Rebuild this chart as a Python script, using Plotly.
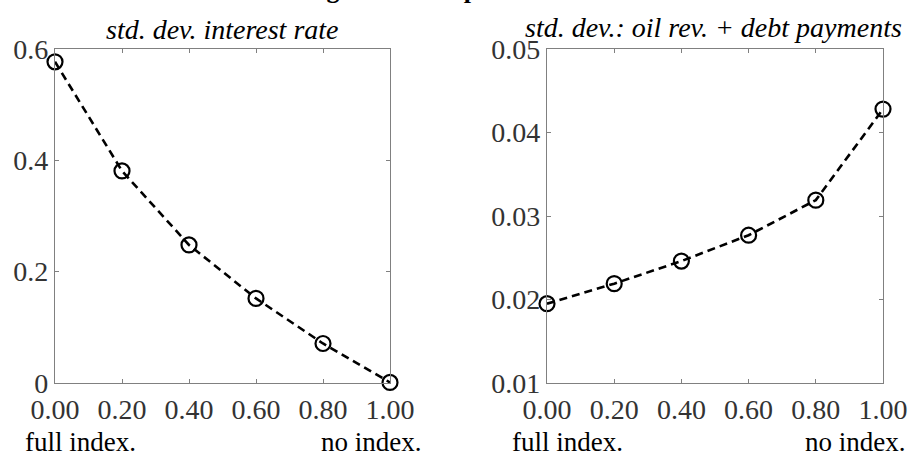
import plotly.graph_objects as go

x_vals = [0.0, 0.2, 0.4, 0.6, 0.8, 1.0]
x_ticktext = ["0.00", "0.20", "0.40", "0.60", "0.80", "1.00"]
sd_interest = [0.577, 0.381, 0.248, 0.152, 0.071, 0.001]
sd_oil_debt = [0.0195, 0.0219, 0.0246, 0.0277, 0.0319, 0.0428]

left_title = "std. dev. interest rate"
right_title = "std. dev.: oil rev. + debt payments"
main_title = "Effects of indexing debt to oil prices"

W, H = 912, 462
FONT = "Liberation Serif"

fig = go.Figure()
for i, (ys, ax) in enumerate([(sd_interest, ""), (sd_oil_debt, "2")]):
    fig.add_trace(go.Scatter(
        x=x_vals, y=ys, xaxis="x" + ax, yaxis="y" + ax,
        mode="lines+markers",
        line=dict(color="black", width=2.6, dash="8px,5px"),
        marker=dict(symbol="circle-open", size=15, color="black", line=dict(width=2.2, color="black")),
        showlegend=False, cliponaxis=False,
    ))

def px_x(p):
    return p / W

def px_y(p):
    return 1 - p / H

axis_common = dict(
    showline=True, linecolor="#808080", linewidth=1.2, mirror="ticks",
    ticks="inside", ticklen=4, tickcolor="#808080",
    showgrid=False, zeroline=False, automargin=False,
    tickfont=dict(family=FONT, size=28, color="#333333"),
)

fig.update_layout(
    width=W, height=H,
    margin=dict(l=0, r=0, t=0, b=0),
    paper_bgcolor="white", plot_bgcolor="white",
    xaxis=dict(domain=[px_x(55), px_x(390)], range=[0, 1], tickvals=x_vals, ticktext=x_ticktext,
               anchor="y", ticklabelstandoff=1, **axis_common),
    yaxis=dict(domain=[px_y(383), px_y(49)], range=[0, 0.6], tickvals=[0, 0.2, 0.4, 0.6],
               ticktext=["0", "0.2", "0.4", "0.6"], anchor="x", **axis_common),
    xaxis2=dict(domain=[px_x(547), px_x(883)], range=[0, 1], tickvals=x_vals, ticktext=x_ticktext,
                anchor="y2", ticklabelstandoff=1, **axis_common),
    yaxis2=dict(domain=[px_y(383), px_y(49)], range=[0.01, 0.05],
                tickvals=[0.01, 0.02, 0.03, 0.04, 0.05],
                ticktext=["0.01", "0.02", "0.03", "0.04", "0.05"], anchor="x2", **axis_common),
)

annos = [
    dict(text="<i>" + left_title + "</i>", x=px_x(222), y=px_y(29), xanchor="center", yanchor="middle", size=28),
    dict(text="<i>" + right_title + "</i>", x=px_x(713), y=px_y(28), xanchor="center", yanchor="middle", size=28),
    dict(text="full index.", x=px_x(23), y=px_y(442), xanchor="left", yanchor="middle", size=27),
    dict(text="no index.", x=px_x(424), y=px_y(442), xanchor="right", yanchor="middle", size=27),
    dict(text="full index.", x=px_x(510), y=px_y(442), xanchor="left", yanchor="middle", size=27),
    dict(text="no index.", x=px_x(908), y=px_y(442), xanchor="right", yanchor="middle", size=27),
]
for a in annos:
    size = a.pop("size")
    fig.add_annotation(xref="paper", yref="paper", showarrow=False,
                       font=dict(family=FONT, size=size, color="black"), **a)

fig.add_annotation(xref="paper", yref="paper", showarrow=False,
                   text="<b>" + main_title + "</b>", x=px_x(131), y=px_y(6), xanchor="left", yanchor="bottom",
                   font=dict(family=FONT, size=26, color="black"))

fig.write_html("out.html")
